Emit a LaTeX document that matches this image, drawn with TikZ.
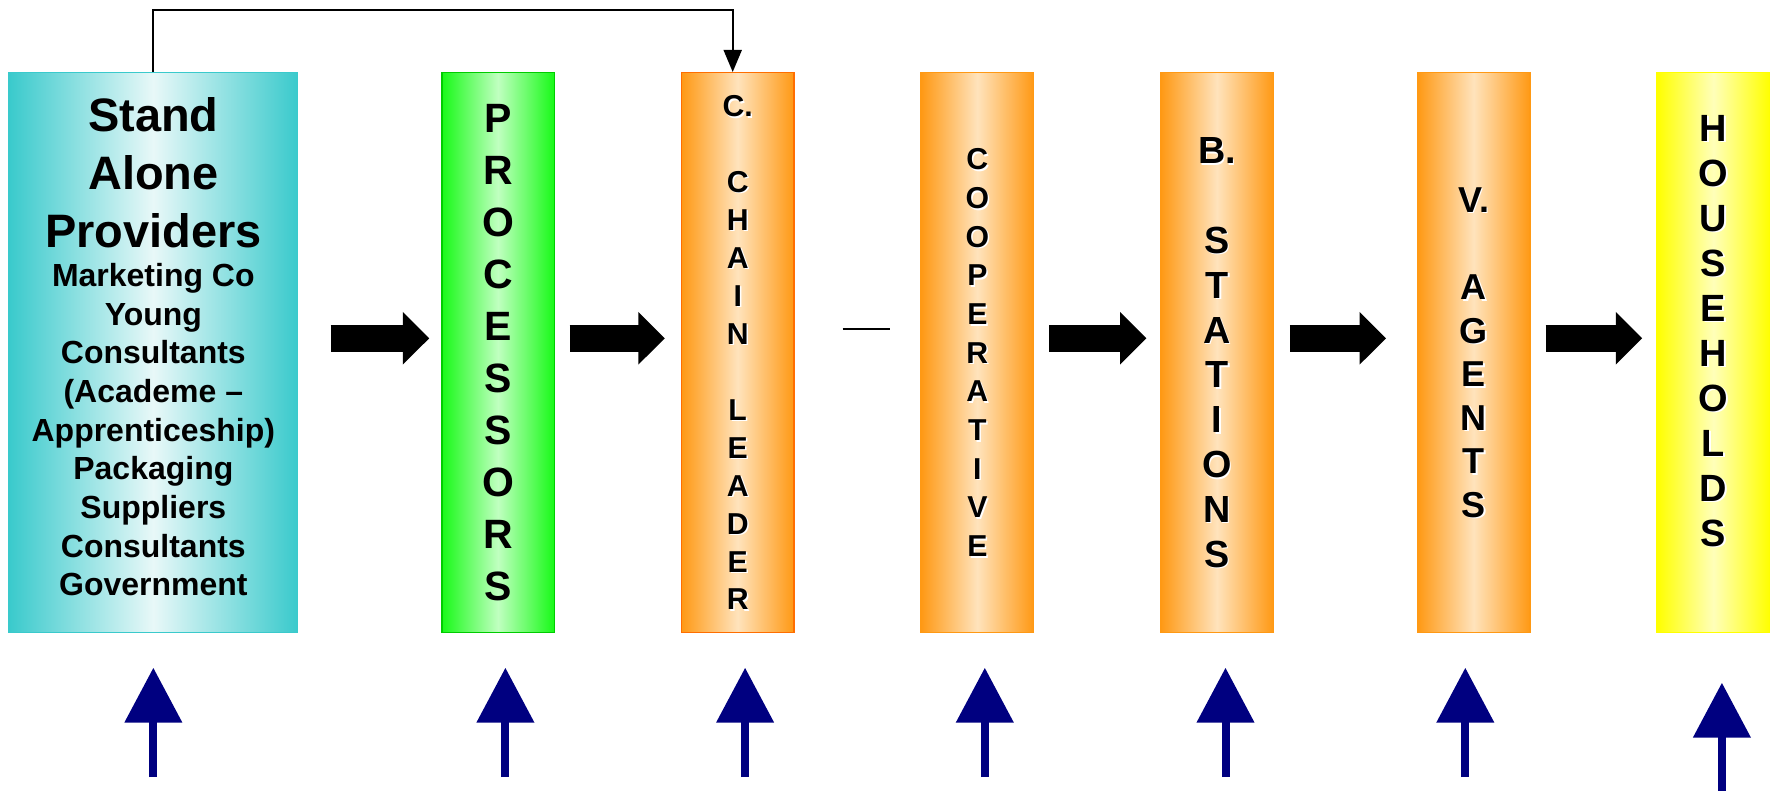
\documentclass[tikz,border=0pt]{standalone}
\usepackage{fontspec}
\setmainfont{Liberation Sans}
\usetikzlibrary{shapes, arrows.meta, positioning}

\definecolor{tealedge}{RGB}{58,202,204}
\definecolor{tealmid}{RGB}{232,248,248}
\definecolor{greenedge}{RGB}{24,250,24}
\definecolor{greenmid}{RGB}{192,255,192}
\definecolor{greenline}{RGB}{0,204,0}
\definecolor{orangeedge}{RGB}{255,153,20}
\definecolor{orangemid}{RGB}{255,227,188}
\definecolor{orangeline}{RGB}{255,110,0}
\definecolor{yellowedge}{RGB}{255,255,0}
\definecolor{yellowmid}{RGB}{255,255,185}
\definecolor{feedblue}{RGB}{0,0,128}

% letters with a white drop shadow
\newcommand{\shadowstack}[3][]{%
  \node[stack, #1, text=white, xshift=0.85pt, yshift=-0.85pt] (#2-shadow) at (#2) {#3};
  \node[stack, #1] (#2-text) at (#2) {#3};}

\begin{document}
\begin{tikzpicture}

\tikzstyle{column} = [rectangle, minimum width=2.25cm, minimum height=11.2cm, line width=0.8pt, inner sep=0pt]
\tikzstyle{tealcol} = [column, draw=tealedge, left color=tealedge, right color=tealedge, middle color=tealmid, minimum width=5.77cm]
\tikzstyle{greencol} = [column, draw=greenline, left color=greenedge, right color=greenedge, middle color=greenmid]
\tikzstyle{orangecol} = [column, draw=orangeedge, left color=orangeedge, right color=orangeedge, middle color=orangemid]
\tikzstyle{yellowcol} = [column, draw=yellowedge, left color=yellowedge, right color=yellowedge, middle color=yellowmid]
\tikzstyle{stack} = [align=center, inner sep=0pt]
\tikzstyle{block} = [line width=0.54cm, -{Triangle[length=0.53cm, width=1.02cm]}]
\tikzstyle{feed} = [feedblue, line width=0.16cm, -{Triangle[length=1.1cm, width=1.12cm]}]
\tikzstyle{link} = [line width=1.1pt, -{Triangle[length=0.44cm, width=0.36cm]}]

\useasboundingbox (0,0) rectangle (35.62,-15.82);

\node[tealcol] at (3.067,-7.054) (sap) {};
\node[greencol] at (9.961,-7.054) (proc) {};
\node[orangecol, draw=orangeline] at (14.754,-7.054) (chain) {};
\node[orangecol] at (19.547,-7.054) (coop) {};
\node[orangecol] at (24.341,-7.054) (stations) {};
\node[orangecol] at (29.475,-7.054) (agents) {};
\node[yellowcol] at (34.268,-7.054) (households) {};

\node[stack, font=\bfseries\fontsize{26.7}{33}\selectfont, anchor=north] at (3.067,-1.94) (sap-title) {Stand\\Alone\\Providers};
\node[stack, font=\bfseries\fontsize{18.2}{22}\selectfont, below=0.3cm of sap-title] (sap-list)
  {Marketing Co\\Young\\Consultants\\(Academe –\\Apprenticeship)\\Packaging\\Suppliers\\Consultants\\Government};

\node[stack, font=\bfseries\fontsize{23.3}{29.6}\selectfont] at (proc) (proc-text) {P\\R\\O\\C\\E\\S\\S\\O\\R\\S};
\shadowstack[font=\bfseries\fontsize{17.2}{21.6}\selectfont]{chain}{C.\\~\\C\\H\\A\\I\\N\\~\\L\\E\\A\\D\\E\\R}
\shadowstack[font=\bfseries\fontsize{17.2}{22}\selectfont]{coop}{C\\O\\O\\P\\E\\R\\A\\T\\I\\V\\E}
\shadowstack[font=\bfseries\fontsize{21.5}{25.5}\selectfont]{stations}{B.\\~\\S\\T\\A\\T\\I\\O\\N\\S}
\shadowstack[font=\bfseries\fontsize{20.5}{24.8}\selectfont]{agents}{V.\\~\\A\\G\\E\\N\\T\\S}
\shadowstack[font=\bfseries\fontsize{21.6}{25.6}\selectfont, yshift=0.44cm]{households}{H\\O\\U\\S\\E\\H\\O\\L\\D\\S}

\coordinate (top) at (0,-0.2);
\draw[link] (sap.north) -- (sap.north |- top) -| ([xshift=-0.1cm]chain.north);

\draw[block, shorten <=0.648cm, shorten >=0.236cm] ([yshift=0.288cm]sap.east) -- ([yshift=0.288cm]proc.west);
\draw[block, shorten <=0.294cm, shorten >=0.318cm] ([yshift=0.288cm]proc.east) -- ([yshift=0.288cm]chain.west);
\draw[line width=1.1pt, shorten <=0.96cm, shorten >=0.612cm] ([yshift=0.474cm]chain.east) -- ([yshift=0.474cm]coop.west);
\draw[block, shorten <=0.296cm, shorten >=0.272cm] ([yshift=0.288cm]coop.east) -- ([yshift=0.288cm]stations.west);
\draw[block, shorten <=0.316cm, shorten >=0.614cm] ([yshift=0.288cm]stations.east) -- ([yshift=0.288cm]agents.west);
\draw[block, shorten <=0.3cm, shorten >=0.284cm] ([yshift=0.288cm]agents.east) -- ([yshift=0.288cm]households.west);

\coordinate (in-sap) at (3.067,-15.54);
\coordinate (in-proc) at (10.108,-15.54);
\coordinate (in-chain) at (14.902,-15.54);
\coordinate (in-coop) at (19.696,-15.54);
\coordinate (in-stations) at (24.51,-15.54);
\coordinate (in-agents) at (29.306,-15.54);
\coordinate (in-households) at (34.438,-15.82);

\draw[feed, shorten >=0.686cm] (in-sap) -- (in-sap |- sap.south);
\draw[feed, shorten >=0.686cm] (in-proc) -- (in-proc |- proc.south);
\draw[feed, shorten >=0.686cm] (in-chain) -- (in-chain |- chain.south);
\draw[feed, shorten >=0.686cm] (in-coop) -- (in-coop |- coop.south);
\draw[feed, shorten >=0.686cm] (in-stations) -- (in-stations |- stations.south);
\draw[feed, shorten >=0.686cm] (in-agents) -- (in-agents |- agents.south);
\draw[feed, shorten >=0.986cm] (in-households) -- (in-households |- households.south);

\end{tikzpicture}
\end{document}
